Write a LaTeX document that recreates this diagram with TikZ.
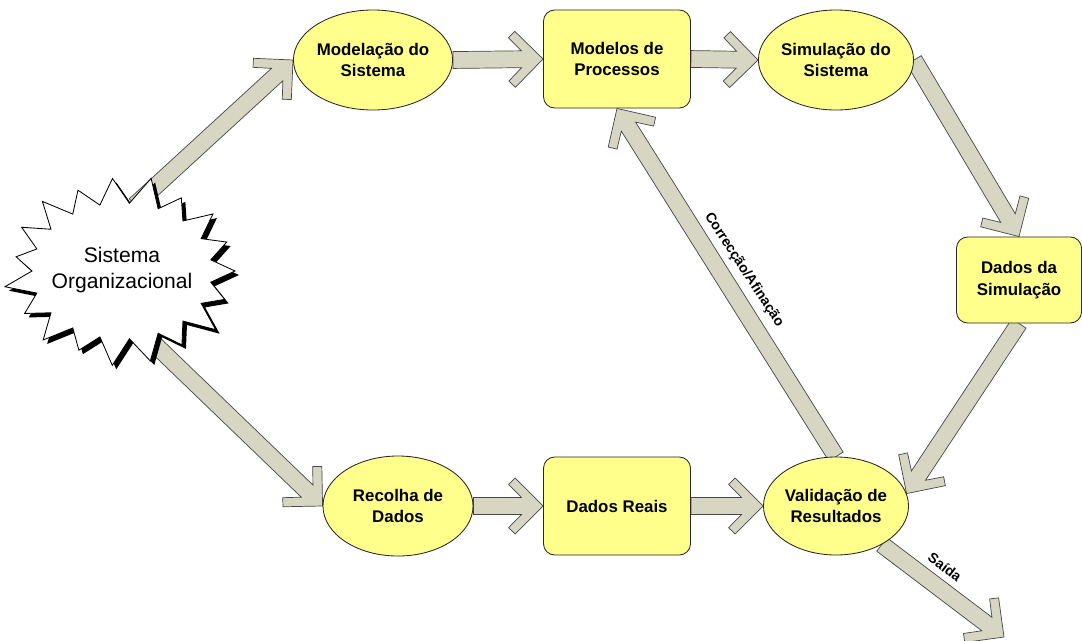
\documentclass[tikz,border=0pt]{standalone}
\usepackage{fontspec}
\setmainfont{Liberation Sans}
\usetikzlibrary{calc,shapes.geometric,backgrounds}

\definecolor{nodefill}{RGB}{255,255,140}
\definecolor{arrowfill}{RGB}{214,214,194}
\definecolor{arrowline}{RGB}{70,70,70}

\tikzset{
  proc/.style={ellipse, draw=black!85, line width=0.6pt, fill=nodefill,
    minimum width=3.75cm, minimum height=2.5cm, inner sep=0pt, align=center,
    font=\bfseries\fontsize{12}{15.5}\selectfont},
  store/.style={rectangle, rounded corners=8pt, draw=black!85, line width=0.6pt,
    fill=nodefill, minimum width=3.675cm, minimum height=2.45cm, inner sep=0pt,
    align=center, font=\bfseries\fontsize{12}{15.5}\selectfont},
  burstlabel/.style={align=center, inner sep=0pt, font=\fontsize{15}{18}\selectfont},
  burstline/.style={fill=white, draw=black, line width=0.6pt, line join=miter},
  burstshadow/.style={fill=black},
  fatarrow/.style={fill=arrowfill, draw=arrowline, line width=0.5pt, line join=miter},
  arrowlabel/.style={font=\bfseries\fontsize{10}{12}\selectfont, inner sep=0pt}
}

% jagged outline: 19 spikes on an ellipse, each with its own reach
\newcommand\burstpath{%
  (-9.47:90 and 68)
  \foreach \k/\f in {0/1.00, 1/0.96, 2/1.05, 3/0.97, 4/1.02, 5/1.04,
                     6/0.95, 7/1.03, 8/0.98, 9/1.05, 10/0.95, 11/1.01,
                     12/1.04, 13/0.97, 14/1.02, 15/1.05, 16/0.96, 17/1.02, 18/0.98}
    { -- ({\k*18.947}:{113*\f} and {91*\f}) -- ({\k*18.947+9.47}:90 and 68) }
  -- cycle}

% thick block arrow with an open chevron head, from #1 to the tip #2
\newcommand\fatarrow[2]{%
  \coordinate (fa-a) at (#1);
  \coordinate (fa-b) at (#2);
  \coordinate (fa-s) at ($(fa-b)!15.3pt!(fa-a)$);
  \coordinate (fa-c) at ($(fa-b)!19.9pt!(fa-a)$);
  \coordinate (fa-d) at ($(fa-b)!24.5pt!(fa-a)$);
  \filldraw[fatarrow]
    ($(fa-a)!6pt!90:(fa-b)$) -- ($(fa-s)!6pt!90:(fa-b)$)
    -- ($(fa-d)!15.4pt!90:(fa-b)$) -- ($(fa-c)!19.9pt!90:(fa-b)$)
    -- (fa-b)
    -- ($(fa-c)!19.9pt!-90:(fa-b)$) -- ($(fa-d)!15.4pt!-90:(fa-b)$)
    -- ($(fa-s)!6pt!-90:(fa-b)$) -- ($(fa-a)!6pt!-90:(fa-b)$) -- cycle;
}

\begin{document}
\begin{tikzpicture}[x=0.025cm, y=-0.025cm]
  \useasboundingbox (0,0) rectangle (1082,640);

  % source: jagged burst with a hard black shadow
  \begin{scope}[shift={(126,275)}]
    \fill[burstshadow] \burstpath;
  \end{scope}
  \begin{scope}[shift={(122,271)}]
    \filldraw[burstline] \burstpath;
  \end{scope}
  \node[burstlabel] (star) at (122,270) {Sistema\\Organizacional};
  \coordinate (star-up) at (135,205);
  \coordinate (star-down) at (145,335);

  % upper path
  \node[proc]  (mod) at (373,60)  {Modelação do\\Sistema};
  \node[store] (mp)  at (617,59)  {Modelos de\\Processos};
  \node[proc]  (sim) at (836,60)  {Simulação do\\Sistema};
  \node[store, minimum width=3.125cm, minimum height=2.15cm] (dsim) at (1019,280) {Dados da\\Simulação};

  % lower path
  \node[proc]  (rec) at (398,506) {Recolha de\\Dados};
  \node[store] (dr)  at (617,506) {Dados Reais};
  \node[proc, minimum width=3.625cm, minimum height=2.45cm] (val) at (836,506) {Validação de\\Resultados};

  \coordinate (out) at (1004,637);

  \begin{pgfonlayer}{background}
    \fatarrow{star-up}{mod.west}
    \fatarrow{mod.east}{mp.west}
    \fatarrow{mp.east}{sim.west}
    \fatarrow{sim.east}{dsim.north}
    \fatarrow{dsim.south}{val.10}
    \fatarrow{val.north}{mp.south}
    \fatarrow{star-down}{rec.west}
    \fatarrow{rec.east}{dr.west}
    \fatarrow{dr.east}{val.west}
    \fatarrow{val.-40}{out}
  \end{pgfonlayer}

  \node[arrowlabel, rotate=-56.8] (fix) at (744,270) {Correcção/Afinação};
  \node[arrowlabel, rotate=-37] (saida) at (945,567) {Saída};
\end{tikzpicture}
\end{document}
